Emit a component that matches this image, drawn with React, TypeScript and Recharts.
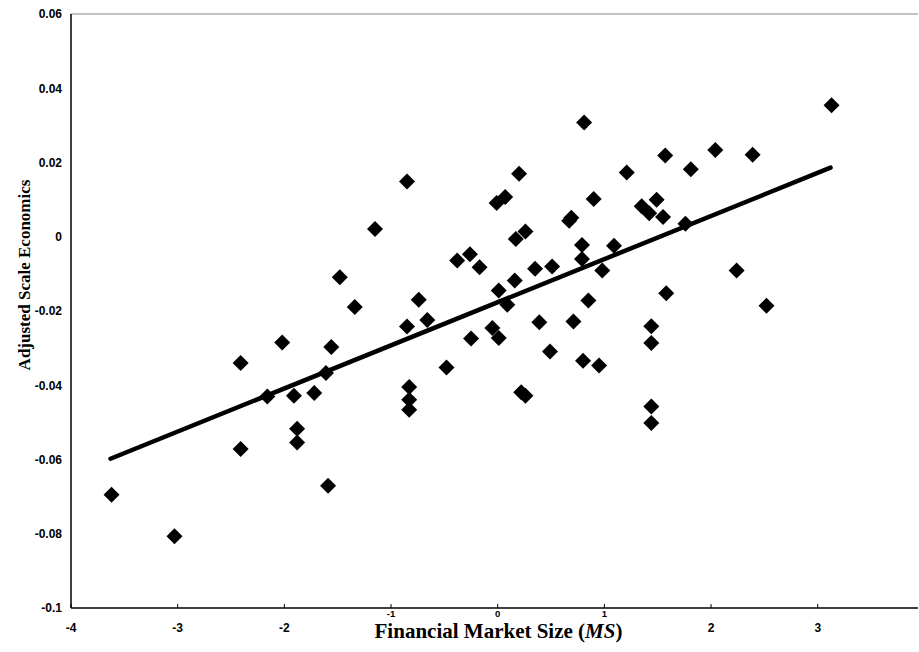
import React from "react";
import { ScatterChart, Scatter, XAxis, YAxis, ReferenceLine, Label } from "recharts";

// Financial market size (MS) of each observation
const marketSize = [
  -3.62, -3.03, -2.41, -2.41, -2.16, -2.02, -1.91, -1.88, -1.88, -1.72,
  -1.61, -1.59, -1.56, -1.48, -1.34, -1.15, -0.85, -0.85, -0.83, -0.83,
  -0.83, -0.74, -0.66, -0.48, -0.38, -0.26, -0.25, -0.17, -0.05, -0.01,
  0.01, 0.01, 0.07, 0.09, 0.16, 0.17, 0.2, 0.22, 0.26, 0.26,
  0.35, 0.39, 0.49, 0.51, 0.67, 0.69, 0.71, 0.79, 0.79, 0.8,
  0.81, 0.85, 0.9, 0.95, 0.98, 1.09, 1.21, 1.35, 1.42, 1.49,
  1.55, 1.44, 1.44, 1.44, 1.44, 1.57, 1.58, 1.76, 1.81, 2.04,
  2.24, 2.39, 2.52, 3.13,
];

// Adjusted scale economics of each observation
const scaleEconomics = [
  -0.0695, -0.0807, -0.034, -0.0572, -0.043, -0.0285, -0.0428, -0.0517, -0.0554, -0.0421,
  -0.0367, -0.0671, -0.0297, -0.0109, -0.0189, 0.0021, 0.0149, -0.0242, -0.0405, -0.0439,
  -0.0466, -0.017, -0.0224, -0.0352, -0.0064, -0.0047, -0.0274, -0.0082, -0.0246, 0.0091,
  -0.0273, -0.0145, 0.0107, -0.0183, -0.0118, -0.0006, 0.017, -0.0419, 0.0014, -0.0428,
  -0.0086, -0.023, -0.0309, -0.008, 0.0043, 0.0051, -0.0228, -0.0022, -0.006, -0.0334,
  0.0308, -0.0172, 0.0102, -0.0347, -0.0091, -0.0024, 0.0173, 0.0082, 0.0063, 0.01,
  0.0053, -0.0241, -0.0286, -0.0457, -0.0502, 0.0219, -0.0152, 0.0035, 0.0182, 0.0234,
  -0.0091, 0.0221, -0.0186, 0.0354,
];

// Fitted regression line end points
const fitX = [-3.63, 3.12];
const fitY = [-0.0598, 0.0186];

const xTicks = [-4, -3, -2, -1, 0, 1, 2, 3];
const yTicks = [0.06, 0.04, 0.02, 0, -0.02, -0.04, -0.06, -0.08, -0.1];
// ticks that sit under the axis title in the original
const raisedTicks = [-1, 0, 1];

const points = marketSize.map((x, i) => ({ x, y: scaleEconomics[i] }));
const fitLine = fitX.map((x, i) => ({ x, y: fitY[i] }));

const tickFont = "'Liberation Sans', Arial, sans-serif";
const serif = "'Liberation Serif', 'Times New Roman', serif";

const Diamond = (p: any) => {
  const { cx, cy } = p;
  const r = 8;
  return (
    <polygon
      points={`${cx},${cy - r} ${cx + r},${cy} ${cx},${cy + r} ${cx - r},${cy}`}
      fill="#000"
    />
  );
};

const NoShape = () => <g />;

const XTick = (props: any) => {
  const { x, y, payload } = props;
  const raised = raisedTicks.includes(payload.value);
  return (
    <g>
      <line x1={x} x2={x} y1={y - 4} y2={y} stroke="#000" strokeWidth={1} />
      <text
        x={x}
        y={raised ? y + 8.5 : y + 24}
        textAnchor="middle"
        fontFamily={tickFont}
        fontSize={raised ? 9.5 : 12}
        fontWeight="bold"
        fill="#000"
      >
        {String(payload.value)}
      </text>
    </g>
  );
};

const XLabel = (props: any) => {
  const vb = props.viewBox || { x: 71, y: 608, width: 847, height: 44 };
  const cx = vb.x + vb.width / 2 + 4;
  const by = vb.y + 30;
  return (
    <text
      x={cx}
      y={by}
      textAnchor="middle"
      fontFamily={serif}
      fontSize={21}
      fontWeight="bold"
      fill="#000"
    >
      Financial Market Size (<tspan fontStyle="italic">MS</tspan>)
    </text>
  );
};

const YLabel = () => {
  const cx = 24;
  const cy = 275;
  return (
    <text
      x={cx}
      y={cy}
      transform={`rotate(-90 ${cx} ${cy})`}
      textAnchor="middle"
      dominantBaseline="central"
      fontFamily={serif}
      fontSize={17}
      fontWeight="bold"
      fill="#000"
    >
      Adjusted Scale Economics
    </text>
  );
};

export default function App() {
  return (
    <div
      style={{
        position: "absolute",
        left: 0,
        top: 0,
        width: 919,
        height: 652,
        overflow: "hidden",
        background: "#fff",
      }}
    >
      <ScatterChart
        width={919}
        height={652}
        margin={{ top: 14, right: 1, bottom: 0, left: 0 }}
      >
        <XAxis
          type="number"
          dataKey="x"
          domain={[-4, 3.94]}
          ticks={xTicks}
          interval={0}
          height={44}
          tickSize={0}
          tickMargin={0}
          tickLine={false}
          axisLine={{ stroke: "#000", strokeWidth: 1.5 }}
          tick={<XTick />}
        >
          <Label content={<XLabel />} />
        </XAxis>
        <YAxis
          type="number"
          dataKey="y"
          domain={[-0.1, 0.06]}
          ticks={yTicks}
          interval={0}
          width={71}
          tickSize={0}
          tickMargin={9}
          tickLine={false}
          axisLine={{ stroke: "#000", strokeWidth: 1.5 }}
          tickFormatter={(v: number) => String(v)}
          tick={{
            fill: "#000",
            fontSize: 12,
            fontWeight: "bold",
            fontFamily: tickFont,
          }}
        >
          <Label content={<YLabel />} />
        </YAxis>
        <ReferenceLine y={0.06} stroke="#888" strokeWidth={1} />
        <Scatter
          data={fitLine}
          line={{ stroke: "#000", strokeWidth: 4.5, strokeLinecap: "round" }}
          shape={NoShape}
          isAnimationActive={false}
        />
        <Scatter data={points} shape={Diamond} fill="#000" isAnimationActive={false} />
      </ScatterChart>
    </div>
  );
}
